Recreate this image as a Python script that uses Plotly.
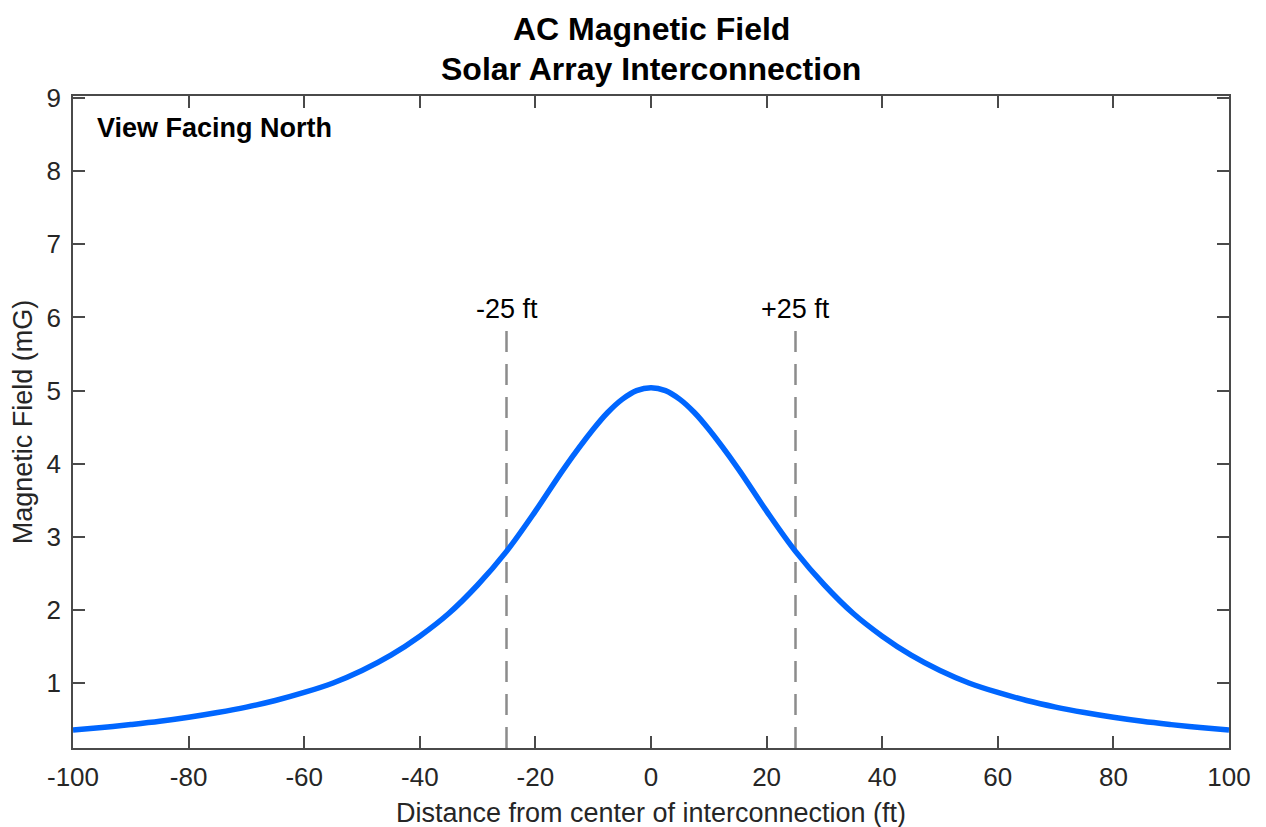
import plotly.graph_objects as go

# Data
distance_ft = [-100, -95, -90, -85, -80, -75, -70, -65, -60, -55, -50, -45, -40, -35, -30, -25, -20, -15, -10, -7.5, -5, -2.5,
               0, 2.5, 5, 7.5, 10, 15, 20, 25, 30, 35, 40, 45, 50, 55, 60, 65, 70, 75, 80, 85, 90, 95, 100]
field_mG = [0.355, 0.39, 0.43, 0.475, 0.53, 0.595, 0.67, 0.76, 0.87, 1.00, 1.17, 1.38, 1.64, 1.95, 2.34, 2.80, 3.35, 3.94, 4.47, 4.70, 4.88, 5.00,
            5.04, 5.00, 4.88, 4.70, 4.47, 3.94, 3.35, 2.80, 2.34, 1.95, 1.64, 1.38, 1.17, 1.00, 0.87, 0.76, 0.67, 0.595, 0.53, 0.475, 0.43, 0.39, 0.355]
marker_x = [-25, 25]
marker_labels = ["-25 ft", "+25 ft"]
marker_top = 5.9
x_ticks = [-100, -80, -60, -40, -20, 0, 20, 40, 60, 80, 100]
y_ticks = [1, 2, 3, 4, 5, 6, 7, 8, 9]
x_range = [-100, 100]
y_range = [0.11, 9.03]

FONT = "Liberation Sans, Arial, Helvetica, sans-serif"
AX = "#4a4a4a"
TXT = "#262626"

fig = go.Figure()

for mx in marker_x:
    fig.add_trace(go.Scatter(
        x=[mx, mx], y=[y_range[0], marker_top], mode="lines",
        line=dict(color="#8c8c8c", width=2.5, dash="21px,12px"),
        hoverinfo="skip", showlegend=False))

fig.add_trace(go.Scatter(
    x=distance_ft, y=field_mG, mode="lines",
    line=dict(color="#0066ff", width=5.5, shape="spline", smoothing=1.0),
    showlegend=False))

annotations = []
for mx, lab in zip(marker_x, marker_labels):
    annotations.append(dict(x=mx, y=6.12, xref="x", yref="y", text=lab, showarrow=False,
                            font=dict(family=FONT, size=27, color="black"),
                            xanchor="center", yanchor="middle"))
annotations.append(dict(x=0.5, y=1.103, xref="paper", yref="paper", text="<b>AC Magnetic Field</b>",
                        showarrow=False, font=dict(family=FONT, size=32, color="black"),
                        xanchor="center", yanchor="middle"))
annotations.append(dict(x=0.5, y=1.041, xref="paper", yref="paper", text="<b>Solar Array Interconnection</b>",
                        showarrow=False, font=dict(family=FONT, size=32, color="black"),
                        xanchor="center", yanchor="middle"))
annotations.append(dict(x=0.019, y=0.951, xref="paper", yref="paper", text="<b>View Facing North</b>",
                        showarrow=False, font=dict(family=FONT, size=27, color="black"),
                        xanchor="left", yanchor="middle"))

fig.update_layout(
    width=1266, height=827,
    margin=dict(l=65, r=45, t=88, b=87),
    paper_bgcolor="white", plot_bgcolor="white",
    font=dict(family=FONT, size=26, color=TXT),
    annotations=annotations,
    xaxis=dict(range=x_range, tickvals=x_ticks, ticktext=[str(v) for v in x_ticks],
               showgrid=False, zeroline=False, showline=True, linecolor=AX, linewidth=1.5,
               mirror="ticks", ticks="inside", ticklen=12, tickwidth=1.5, tickcolor=AX,
               ticklabelstandoff=5,
               tickfont=dict(family=FONT, size=26, color=TXT),
               title=dict(text="Distance from center of interconnection (ft)", standoff=12,
                          font=dict(family=FONT, size=27, color=TXT))),
    yaxis=dict(range=y_range, tickvals=y_ticks, ticktext=[str(v) for v in y_ticks],
               showgrid=False, zeroline=False, showline=True, linecolor=AX, linewidth=1.5,
               mirror="ticks", ticks="inside", ticklen=12, tickwidth=1.5, tickcolor=AX,
               ticklabelstandoff=5,
               tickfont=dict(family=FONT, size=26, color=TXT),
               title=dict(text="Magnetic Field (mG)", standoff=7,
                          font=dict(family=FONT, size=27, color=TXT))),
)

fig.write_html("out.html")
